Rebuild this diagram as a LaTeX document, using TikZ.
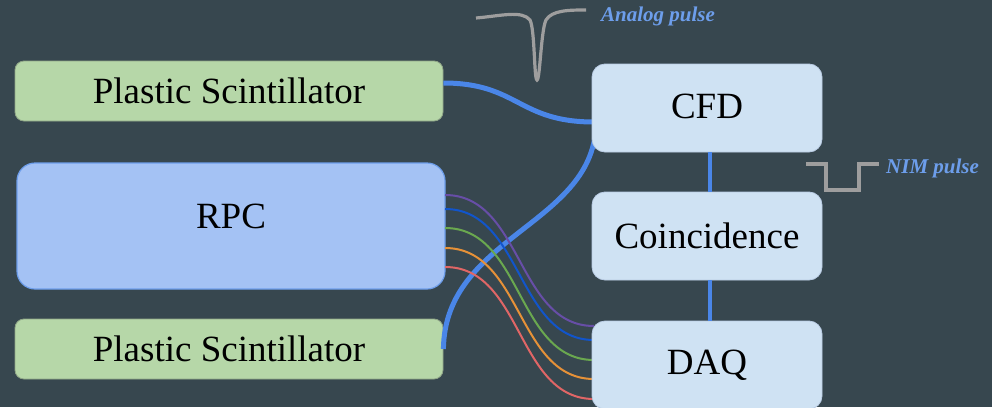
\documentclass[tikz,border=0pt]{standalone}
\usepackage{fontspec}
\setmainfont{Liberation Serif}
\usetikzlibrary{calc}
\definecolor{bg}{HTML}{37474F}
\definecolor{greenfill}{HTML}{B6D7A8}
\definecolor{greenline}{HTML}{8FA587}
\definecolor{rpcfill}{HTML}{A4C2F4}
\definecolor{rpcline}{HTML}{6D9EEB}
\definecolor{boxfill}{HTML}{CFE2F3}
\definecolor{boxline}{HTML}{B9CCE4}
\definecolor{link}{HTML}{4A86E8}
\definecolor{pulse}{HTML}{9E9E9E}
\definecolor{lbl}{HTML}{6D9EEB}
\definecolor{cpurple}{HTML}{674EA7}
\definecolor{cblue}{HTML}{1155CC}
\definecolor{cgreen}{HTML}{6AA84F}
\definecolor{corange}{HTML}{E69138}
\definecolor{cred}{HTML}{E06666}
\tikzset{
  boxtext/.style={font=\fontsize{37}{42}\selectfont, text=black},
  scint/.style={boxtext, draw=greenline, line width=0.8pt, fill=greenfill, rounded corners=9pt, minimum width=428pt, minimum height=60pt, inner sep=0pt},
  rpcbox/.style={boxtext, draw=rpcline, line width=1.2pt, fill=rpcfill, rounded corners=18pt, minimum width=428pt, minimum height=126pt, inner sep=0pt},
  devbox/.style={boxtext, draw=boxline, line width=0.8pt, fill=boxfill, rounded corners=13pt, minimum width=230pt, minimum height=88pt, inner sep=0pt},
  bluelink/.style={draw=link, line width=5pt},
  sig/.style={line width=2pt},
  pulseline/.style={draw=pulse, line width=3.2pt},
  pulselabel/.style={text=lbl, font=\fontsize{21}{24}\selectfont\bfseries\itshape, anchor=west, inner sep=0pt}
}
\begin{document}
\begin{tikzpicture}[x=1pt,y=-1pt]
\fill[bg] (0,0) rectangle (992,407);
\useasboundingbox (0,0) rectangle (992,407);
\clip (0,0) rectangle (992,407);

% nodes
\node[scint] (ps1) at (229,91) {Plastic Scintillator};
\node[rpcbox] (rpc) at (231,226) {\raisebox{20pt}{RPC}};
\node[scint] (ps2) at (229,349) {Plastic Scintillator};

% connector anchor coordinates
\coordinate (ps1out) at ($(ps1.east)+(0,-8)$);
\coordinate (cfdin) at (594,122);
\coordinate (cfdin2) at (596,122);

% blue links (behind right boxes)
\draw[bluelink] (ps1out) .. controls (518,83) and (518,122) .. (cfdin);
\draw[bluelink] (ps2.east) .. controls (445,235) and (596,225) .. (cfdin2);

% signal lines RPC -> DAQ
\draw[sig, cpurple] (445,195) to[out=0,in=180] (594,326);
\draw[sig, cblue]   (445,209) to[out=0,in=180] (594,340);
\draw[sig, cgreen]  (445,228) to[out=0,in=180] (594,360);
\draw[sig, corange] (445,248) to[out=0,in=180] (594,379);
\draw[sig, cred]    (445,267) to[out=0,in=180] (594,399);

\node[devbox] (cfd) at (707,108) {\raisebox{4pt}{CFD}};
\node[devbox] (coin) at (707,236) {Coincidence};
\node[devbox] (daq) at (707,365) {\raisebox{6pt}{DAQ}};

\draw[bluelink, line width=4.5pt] (cfd.south -| 710,0) -- (coin.north -| 710,0);
\draw[bluelink, line width=4.5pt] (coin.south -| 710,0) -- (daq.north -| 710,0);

% analog pulse
\draw[pulseline] (476,18) .. controls (500,16) and (522,10) .. (530,20)
  .. controls (535,30) and (534,80) .. (537,80)
  .. controls (540,80) and (541,30) .. (546,20)
  .. controls (552,10) and (570,10) .. (586,10);
\node[pulselabel] (analog) at (601,16) {Analog pulse};

% NIM pulse
\draw[pulseline, line cap=butt] (806,164) -- (826,164) -- (826,190) -- (859,190) -- (859,164) -- (879,164);
\node[pulselabel] (nim) at (886,168) {NIM pulse};
\end{tikzpicture}
\end{document}
